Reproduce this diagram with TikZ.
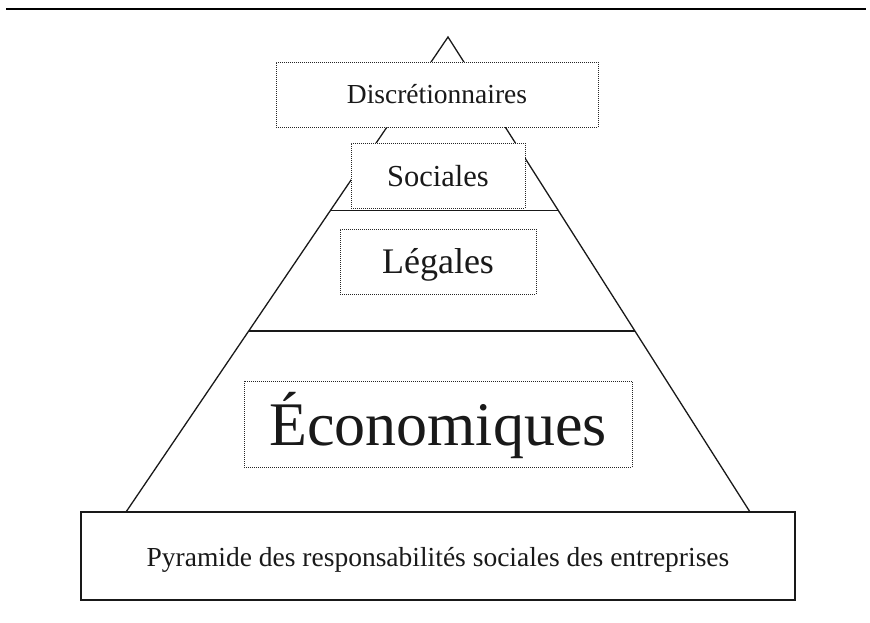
\documentclass[tikz,border=0pt]{standalone}
\usepackage{fontspec}
\setmainfont{Liberation Serif}
\begin{document}
\begin{tikzpicture}[x=1pt,y=-1pt,
  dotbox/.style={draw=black!85, fill=white, line width=1pt, dash pattern=on 1pt off 1pt,
     inner sep=0pt, text depth=0pt, text=black!90},
  solidline/.style={draw=black!90, line width=1.3pt},
  basebox/.style={draw=black!90, line width=1.3pt, fill=white, inner sep=0pt, text depth=0pt, text=black!90}]
\useasboundingbox (0,0) rectangle (870,622);
% top rule
\coordinate (ruleL) at (6,9);
\coordinate (ruleR) at (866,9);
\draw[line width=2.8pt] (ruleL) -- (ruleR);
% pyramid
\coordinate (apex) at (448,37);
\coordinate (baseL) at (126,512);
\coordinate (baseR) at (750,512);
\coordinate (s1L) at (331,210.5);
\coordinate (s1R) at (558,210.5);
\coordinate (s2L) at (249,331);
\coordinate (s2R) at (634.5,331);
\draw[solidline, line join=miter] (baseL) -- (apex) -- (baseR);
\draw[solidline] (s1L) -- (s1R);
\draw[solidline] (s2L) -- (s2R);
% boxes
\node[dotbox, minimum width=322pt, minimum height=65pt, text height=17.6pt,
  font=\fontsize{27.5}{30}\selectfont] (disc) at (437,94.5) {Discrétionnaires};
\node[dotbox, minimum width=174pt, minimum height=65pt, text height=22.2pt,
  font=\fontsize{30.5}{34}\selectfont] (soc) at (438,175.5) {Sociales};
\node[dotbox, minimum width=196pt, minimum height=65pt, text height=24.6pt,
  font=\fontsize{36}{40}\selectfont] (leg) at (438,261.5) {Légales};
\node[dotbox, minimum width=388pt, minimum height=86pt, text height=42pt,
  font=\fontsize{62}{66}\selectfont] (eco) at (438,424) {Économiques};
\node[basebox, minimum width=714pt, minimum height=88pt, text height=20pt,
  font=\fontsize{27.5}{30}\selectfont] (pyr) at (438,556) {Pyramide des responsabilités sociales des entreprises};
\end{tikzpicture}
\end{document}
